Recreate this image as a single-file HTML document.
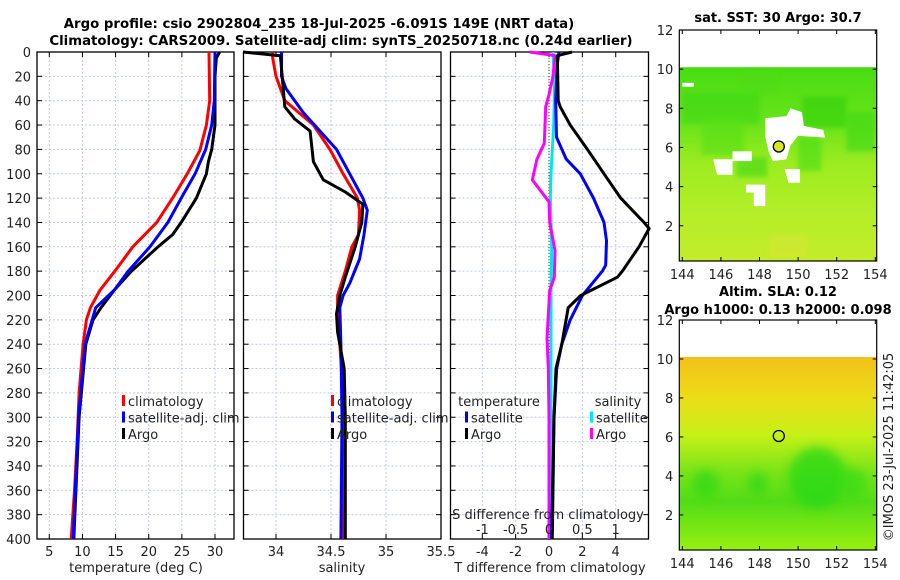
<!DOCTYPE html>
<html><head><meta charset="utf-8"><style>
body{margin:0;background:#fff;}
svg{display:block;font-family:"DejaVu Sans","Liberation Sans",sans-serif;}
</style></head><body>
<svg id="fig" width="900" height="580" viewBox="0 0 900 580" xmlns="http://www.w3.org/2000/svg">
<rect width="900" height="580" fill="#fff"/>
<text x="319" y="28" text-anchor="middle" font-size="13.3" font-weight="bold">Argo profile: csio 2902804_235 18-Jul-2025 -6.091S 149E (NRT data)</text>
<text x="341" y="45" text-anchor="middle" font-size="13.3" font-weight="bold">Climatology: CARS2009. Satellite-adj clim: synTS_20250718.nc (0.24d earlier)</text>
<g id="p1"></g>
<g id="p2"></g>
<g id="p3"></g>
<g id="m1"></g>
<g id="m2"></g>
<text x="778" y="22" text-anchor="middle" font-size="13" font-weight="bold">sat. SST: 30 Argo: 30.7</text>
<text x="778" y="296" text-anchor="middle" font-size="13" font-weight="bold">Altim. SLA: 0.12</text>
<text x="778" y="314" text-anchor="middle" font-size="13" font-weight="bold">Argo h1000: 0.13 h2000: 0.098</text>
<text transform="translate(893,447) rotate(-90)" text-anchor="middle" font-size="13" fill="#222">©IMOS 23-Jul-2025 11:42:05</text>
</svg>
<script>
// ---- data ----
const depthTicks=[0,20,40,60,80,100,120,140,160,180,200,220,240,260,280,300,320,340,360,380,400];
const tTicks=[5,10,15,20,25,30];
const sTicks=[34,34.5,35,35.5];
const tdTicks=[-4,-2,0,2,4];
const sdTicks=[-1,-0.5,0,0.5,1];
const sdTickLabels=['-1','-0.5','0','0.5','1'];
const lonTicks=[144,146,148,150,152,154];
const latTicks=[2,4,6,8,10,12];

const tClimD=[0,40,60,81,100,120,140,160,180,196,210,220,240,260,280,320,360,400];
const tClimV=[29.1,29.2,28.7,27.7,25.8,23.6,21.2,17.6,14.9,12.6,11.2,10.6,10.1,9.8,9.5,9.2,8.8,8.3];
const tSatD=[0,40,60,80,100,120,140,160,180,195,210,240,300,400];
const tSatV=[30.0,29.9,29.5,28.6,27.0,24.9,22.9,20.2,16.9,14.9,12.0,10.4,9.4,8.6];
const tArgoD=[0,5,20,60,80,90,100,120,140,150,160,180,195,210,220,240,300,400];
const tArgoV=[30.7,30.2,30.0,30.0,29.5,29.0,28.7,27.2,24.9,23.6,21.4,17.4,14.9,12.8,11.6,10.5,9.5,8.7];

const sClimD=[0,5,20,30,40,60,80,100,120,130,150,160,180,200,220,240,280,400];
const sClimV=[33.97,33.97,34.0,34.04,34.08,34.34,34.49,34.61,34.74,34.76,34.75,34.69,34.63,34.56,34.56,34.58,34.61,34.61];
const sSatD=[0,20,30,40,50,60,80,100,120,130,150,170,190,200,210,240,300,400];
const sSatV=[34.05,34.05,34.09,34.17,34.25,34.35,34.55,34.67,34.79,34.83,34.8,34.76,34.67,34.61,34.58,34.59,34.6,34.59];
const sArgoD=[0,3,45,55,65,90,105,115,125,140,160,185,200,215,230,260,300,400];
const sArgoV=[33.70,34.04,34.08,34.17,34.31,34.34,34.43,34.63,34.79,34.78,34.72,34.63,34.58,34.55,34.56,34.62,34.63,34.63];

const dTArgoD=[0,3,40,45,60,80,100,120,140,145,160,180,185,200,210,240,260,300,400];
const dTArgoV=[1.38,0.5,0.55,0.67,1.27,2.3,3.3,4.3,5.7,6.0,5.4,4.4,4.1,1.9,1.15,0.77,0.42,0.3,0.2];
const dTSatD=[0,10,40,70,88,100,120,140,155,175,180,200,220,240,260,300,400];
const dTSatV=[0.6,0.5,0.4,0.45,1.03,1.88,2.67,3.3,3.45,3.4,3.2,2.0,1.27,0.77,0.46,0.3,0.15];
const dSArgoD=[0,3,20,35,45,60,75,88,105,123,140,163,185,196,235,260,300,400];
const dSArgoV=[-0.29,0.09,0.06,0.0,-0.05,-0.06,-0.07,-0.18,-0.25,0.0,0.01,0.09,0.08,0.01,-0.03,-0.01,0.0,0.0];
const dSSatD=[0,20,40,60,80,100,120,140,160,200,300,400];
const dSSatV=[0.06,0.08,0.08,0.07,0.05,0.03,0.02,0.03,0.04,0.03,0.03,0.02];

const argoLon=[149.0];
const argoLat=[6.05];

// ---- helpers ----
const NS='http://www.w3.org/2000/svg';
function mk(tag,attrs,parent){const e=document.createElementNS(NS,tag);for(const k in attrs)e.setAttribute(k,attrs[k]);parent.appendChild(e);return e;}
const Y0=52,Y1=539;
const yD=d=>Y0+d/400*(Y1-Y0);
function lin(d0,d1,r0,r1){return v=>r0+(v-d0)/(d1-d0)*(r1-r0);}

function panel(g,x0,x1,xs,xt,xtl,showY){
  depthTicks.forEach(d=>{const l=mk('line',{x1:x0,x2:x1,y1:yD(d),y2:yD(d),stroke:'#c4c8ec','stroke-width':1,'stroke-dasharray':'2,2'},g);});
  xt.forEach(v=>{const l=mk('line',{x1:xs(v),x2:xs(v),y1:Y0,y2:Y1,stroke:'#c4c8ec','stroke-width':1,'stroke-dasharray':'2,2'},g);});
  const r=mk('rect',{x:x0,y:Y0,width:x1-x0,height:Y1-Y0,fill:'none',stroke:'#000','stroke-width':1.3},g);
  
  depthTicks.forEach(d=>{
    mk('line',{x1:x0,x2:x0+5,y1:yD(d),y2:yD(d),stroke:'#000'},g);
    mk('line',{x1:x1-5,x2:x1,y1:yD(d),y2:yD(d),stroke:'#000'},g);
    if(showY){const t=mk('text',{x:x0-6,y:yD(d)+5,'text-anchor':'end','font-size':13,fill:'#222'},g);t.textContent=d;
      }
  });
  xt.forEach((v,i)=>{
    mk('line',{x1:xs(v),x2:xs(v),y1:Y1-5,y2:Y1,stroke:'#000'},g);
    mk('line',{x1:xs(v),x2:xs(v),y1:Y0,y2:Y0+5,stroke:'#000'},g);
    const t=mk('text',{x:xs(v),y:Y1+17,'text-anchor':'middle','font-size':13,fill:'#222'},g);t.textContent=xtl?xtl[i]:v;
    
  });
}
function curve(g,xs,D,V,col,name,w){
  const p=D.map((d,i)=>xs(V[i]).toFixed(1)+','+yD(d).toFixed(1)).join(' ');
  const e=mk('polyline',{points:p,fill:'none',stroke:col,'stroke-width':w||3,'stroke-linejoin':'round'},g);
  
  
}
function legend(g,x,y,items){
  items.forEach((it,i)=>{
    mk('rect',{x:x,y:y+i*16.5-11,width:3,height:11,fill:it[1]},g);
    const t=mk('text',{x:x+6,y:y+i*16.5,'font-size':13,fill:'#222'},g);t.textContent=it[0];
    
  });
}
function label(g,x,y,s,name){const t=mk('text',{x:x,y:y,'text-anchor':'middle','font-size':13,fill:'#222'},g);t.textContent=s;return t;}

// ---- panel 1 temperature ----
const g1=document.getElementById('p1');
const xT=lin(5,30,49.3,215);
panel(g1,37,234,xT,tTicks,null,true);
curve(g1,xT,tClimD,tClimV,'#ff0000','temp-climatology-line');
curve(g1,xT,tArgoD,tArgoV,'#000000','temp-argo-line');
curve(g1,xT,tSatD,tSatV,'#0000ff','temp-satellite-line');
legend(g1,122,406,[['climatology','#f00'],['satellite-adj. clim','#00f'],['Argo','#000']]);
label(g1,136,572,'temperature (deg C)','x-axis-title-temperature');

// ---- panel 2 salinity ----
const g2=document.getElementById('p2');
const xS=lin(34,35,276,386);
panel(g2,243.5,441,xS,sTicks,null,false);
curve(g2,xS,sClimD,sClimV,'#ff0000','sal-climatology-line');
curve(g2,xS,sSatD,sSatV,'#0000ff','sal-satellite-line');
curve(g2,xS,sArgoD,sArgoV,'#000000','sal-argo-line');
legend(g2,331,406,[['climatology','#f00'],['satellite-adj. clim','#00f'],['Argo','#000']]);
label(g2,342,572,'salinity','x-axis-title-salinity');

// ---- panel 3 differences ----
const g3=document.getElementById('p3');
const xTd=lin(0,4,549,615.7);
const xSd=lin(0,1,549,615.7);
panel(g3,450.5,648.5,xTd,tdTicks,null,false);
const zl=mk('line',{x1:xTd(0),x2:xTd(0),y1:Y0,y2:Y1,stroke:'#556b2f','stroke-width':1.2,'stroke-dasharray':'1,2'},g3);

curve(g3,xSd,dSSatD,dSSatV,'#00e5ee','sdiff-satellite-line');
curve(g3,xSd,dSArgoD,dSArgoV,'#ff00ff','sdiff-argo-line');
curve(g3,xTd,dTSatD,dTSatV,'#0000ff','tdiff-satellite-line');
curve(g3,xTd,dTArgoD,dTArgoV,'#000000','tdiff-argo-line');
label(g3,499,406,'temperature','legend-title-temperature');
label(g3,618,406,'salinity','legend-title-salinity');
legend(g3,465,422.5,[['satellite','#00f'],['Argo','#000']]);
legend(g3,590,422.5,[['satellite','#00e5ee'],['Argo','#f0f']]);
label(g3,548,519,'S difference from climatology','s-diff-axis-title');
sdTicks.forEach((v,i)=>label(g3,xSd(v),534,sdTickLabels[i],'s-diff-tick-label'));
label(g3,550,572,'T difference from climatology','x-axis-title-tdiff');

// ---- maps ----
function map(g,top,bot,kind){
  const L=679.3,R=876.7;
  const xl=lin(144,154,682.3,875.3);
  const yl=lin(12,2,top,top+(bot-top)*10/11.8);
  const id='grad'+kind;
  const defs=mk('defs',{},g);
  const gr=mk('linearGradient',{id:id,x1:0,y1:0,x2:0,y2:1},defs);
  const stops=kind==1?[[0,'#48dc12'],[0.3,'#6ae41a'],[0.5,'#9cec20'],[0.75,'#b4ee28'],[1,'#c4ec2a']]
                      :[[0,'#f2c018'],[0.2,'#ecdc18'],[0.4,'#c8f018'],[0.6,'#78e418'],[0.75,'#52dc18'],[1,'#98f010']];
  stops.forEach(s=>mk('stop',{offset:s[0],'stop-color':s[1]},gr));
  const fl=mk('filter',{id:'blur'+kind,x:'-50%',y:'-50%',width:'200%',height:'200%'},defs);
  mk('feGaussianBlur',{stdDeviation:kind==1?2:5},fl);
  const bg=mk('rect',{x:L,y:yl(10.1),width:R-L,height:bot-yl(10.1),fill:'url(#'+id+')'},g);
  
  if(kind==1){
    [[144,148,8.8,7.2,'#40d814'],[150.2,152.5,8.6,7.0,'#30d010'],[152.5,154,7.8,5.8,'#3cd814'],[145,147.2,7.5,5.6,'#58e018'],[150,151.2,6.5,4.8,'#48dc14'],[146.8,148.4,5.5,4.5,'#40d814'],[147,149,9.8,8.8,'#50dc14'],[148.5,150.5,1.5,0.3,'#d4e830']].forEach(b=>{
      const r=mk('rect',{x:xl(b[0]),y:yl(b[2]),width:xl(b[1])-xl(b[0]),height:yl(b[3])-yl(b[2]),fill:b[4],opacity:0.6,filter:'url(#blur1)'},g);
      });
    const holes=[[[148.3,7.5],[149.4,7.6],[149.6,8.0],[150.2,7.8],[150.3,7.1],[151.3,6.9],[151.4,6.5],[150.0,6.6],[149.6,6.1],[149.4,5.4],[148.7,5.3],[148.5,5.7],[148.3,6.5]],
      [[145.6,5.4],[146.6,5.4],[146.6,4.6],[145.8,4.6]],[[147.3,4.1],[148.3,4.1],[148.3,3.0],[147.7,3.0],[147.7,3.7],[147.3,3.7]],[[149.3,4.9],[150.1,4.9],[150.1,4.2],[149.5,4.2]],[[146.6,5.8],[147.6,5.8],[147.6,5.3],[146.6,5.3]],[[144,9.3],[144.6,9.3],[144.6,9.1],[144,9.1]]];
    holes.forEach(h=>{const p=mk('polygon',{points:h.map(q=>xl(q[0])+','+yl(q[1])).join(' '),fill:'#fff'},g);});
  } else {
    [[151,3.9,1.5,1.6,'#28d818'],[145.2,3.6,0.7,0.7,'#30d818'],[147.9,3.6,0.5,0.6,'#30d818'],[152.8,3.6,0.7,0.8,'#38dc18']].forEach(b=>{
      const e=mk('ellipse',{cx:xl(b[0]),cy:yl(b[1]),rx:b[2]*19.3,ry:b[3]*19.3,fill:b[4],opacity:0.75,filter:'url(#blur2)'},g);
      });
  }
  const c=mk('circle',{cx:xl(argoLon[0]),cy:yl(argoLat[0]),r:5.5,fill:kind==1?'#d8e81c':'none',stroke:'#000','stroke-width':1.3},g);
  
  const f=mk('rect',{x:L,y:top,width:R-L,height:bot-top,fill:'none',stroke:'#000','stroke-width':1.2},g);
  
  latTicks.forEach(v=>{mk('line',{x1:L,x2:L+4,y1:yl(v),y2:yl(v),stroke:'#000'},g);mk('line',{x1:R-4,x2:R,y1:yl(v),y2:yl(v),stroke:'#000'},g);
    const t=mk('text',{x:L-6,y:yl(v)+5,'text-anchor':'end','font-size':13,fill:'#222'},g);t.textContent=v;});
  lonTicks.forEach(v=>{mk('line',{x1:xl(v),x2:xl(v),y1:bot-4,y2:bot,stroke:'#000'},g);mk('line',{x1:xl(v),x2:xl(v),y1:top,y2:top+4,stroke:'#000'},g);
    const t=mk('text',{x:xl(v),y:bot+18,'text-anchor':'middle','font-size':13,fill:'#222'},g);t.textContent=v;});
}
map(document.getElementById('m1'),30,261,1);
map(document.getElementById('m2'),320,550,2);
</script>
</body></html>
